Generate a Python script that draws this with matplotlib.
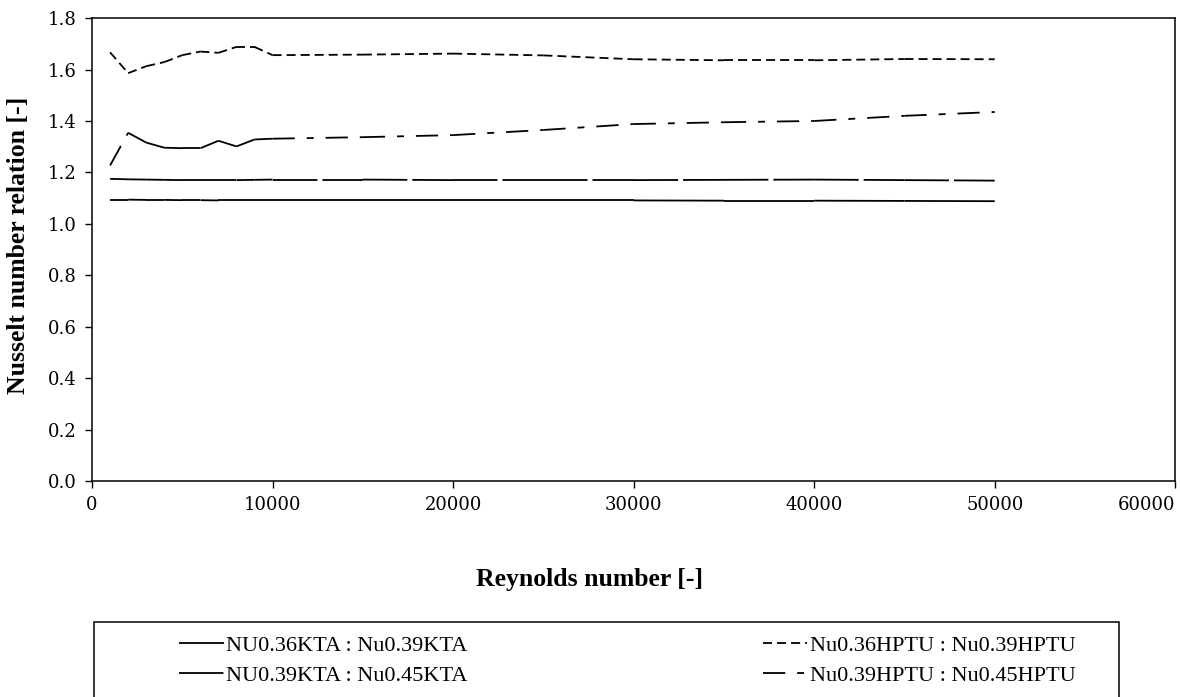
import matplotlib
matplotlib.use("Agg")
import matplotlib.pyplot as plt
from matplotlib.lines import Line2D
from matplotlib.patches import Rectangle

plt.rcParams["lines.scale_dashes"] = False

reynolds = [1000, 2000, 3000, 4000, 5000, 6000, 7000, 8000, 9000, 10000,
            15000, 20000, 25000, 30000, 35000, 40000, 45000, 50000]

kta_036_039 = [1.094, 1.094, 1.093, 1.093, 1.092, 1.092, 1.091, 1.091, 1.091,
               1.091, 1.091, 1.091, 1.091, 1.091, 1.090, 1.090, 1.089, 1.088]
kta_039_045 = [1.175, 1.173, 1.172, 1.171, 1.170, 1.170, 1.170, 1.170, 1.171,
               1.172, 1.172, 1.170, 1.170, 1.170, 1.171, 1.172, 1.170, 1.168]
hptu_036_039 = [1.667, 1.586, 1.613, 1.629, 1.656, 1.670, 1.665, 1.688, 1.688,
                1.656, 1.658, 1.662, 1.655, 1.640, 1.636, 1.636, 1.641, 1.640]
hptu_039_045 = [1.227, 1.354, 1.316, 1.296, 1.294, 1.294, 1.323, 1.301, 1.328,
                1.331, 1.337, 1.345, 1.365, 1.388, 1.395, 1.400, 1.420, 1.435]

labels = ["NU0.36KTA : Nu0.39KTA", "NU0.39KTA : Nu0.45KTA",
          "Nu0.36HPTU : Nu0.39HPTU", "Nu0.39HPTU : Nu0.45HPTU"]

# dash patterns in points, restarted on every segment like the spreadsheet
styles = [(0, ()), (0, (32, 3.6)), (0, (6.5, 3.6)), (0, (16, 8.6, 5, 8.6))]
series = [kta_036_039, kta_039_045, hptu_036_039, hptu_039_045]

fig = plt.figure(figsize=(11.8, 6.97), dpi=100)
ax = fig.add_axes([0.078, 0.31, 0.918, 0.664])

for vals, ls in zip(series, styles):
    for i in range(len(reynolds) - 1):
        ax.plot(reynolds[i:i + 2], vals[i:i + 2], color="black", lw=1.3,
                linestyle=ls, solid_capstyle="butt", dash_capstyle="butt")

ax.set_xlim(0, 60000)
ax.set_ylim(0, 1.8)
ax.set_xticks(range(0, 60001, 10000))
ax.set_yticks([i * 0.2 for i in range(10)])
ax.set_yticklabels([f"{i * 0.2:.1f}" for i in range(10)])
ax.tick_params(direction="out", length=5, width=1, labelsize=13, pad=6)
for lab in ax.get_xticklabels() + ax.get_yticklabels():
    lab.set_family("DejaVu Serif")
ax.get_xticklabels()[-1].set_horizontalalignment("right")
for sp in ax.spines.values():
    sp.set_linewidth(1.1)

ax.set_xlabel("Reynolds number [-]", family="Liberation Serif", weight="bold",
              fontsize=18.5, va="center")
ax.xaxis.set_label_coords(0.459, -0.214)
ax.set_ylabel("Nusselt number relation [-]", family="Liberation Serif",
              weight="bold", fontsize=18.5, va="center")
ax.yaxis.set_label_coords(-0.068, 0.51)

# legend box runs past the lower edge of the figure
fig.patches.append(Rectangle((0.0797, -0.05), 0.869, 0.1576, transform=fig.transFigure,
                             fill=False, edgecolor="black", lw=1.1))
handles = [Line2D([], [], color="black", lw=1.3, linestyle=ls) for ls in styles]
fig.legend(handles, labels,
           loc="upper left", bbox_to_anchor=(0.135, 0.117), ncol=2,
           frameon=False, handlelength=2.0, handletextpad=0.1,
           columnspacing=13.3, labelspacing=0.43,
           prop={"family": "Liberation Serif", "size": 16})

fig.savefig("out.png", dpi=100)
